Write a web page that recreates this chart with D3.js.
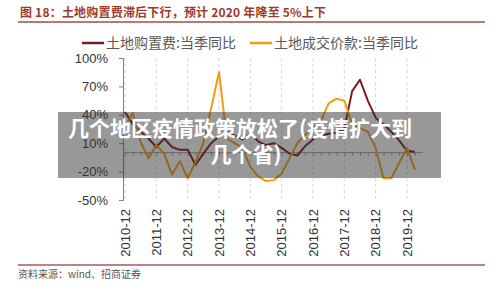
<!DOCTYPE html>
<html>
<head>
<meta charset="utf-8">
<script src="https://cdn.jsdelivr.net/npm/d3@7"></script>
<style>
  body { margin: 0; background: #fff; }
  svg { display: block; }
</style>
</head>
<body>
<div id="chart"></div>
<script>
// Data
const quarters = [
  '2010-12','2011-03','2011-06','2011-09','2011-12','2012-03','2012-06','2012-09','2012-12',
  '2013-03','2013-06','2013-09','2013-12','2014-03','2014-06','2014-09','2014-12',
  '2015-03','2015-06','2015-09','2015-12','2016-03','2016-06','2016-09','2016-12',
  '2017-03','2017-06','2017-09','2017-12','2018-03','2018-06','2018-09','2018-12',
  '2019-03','2019-06','2019-09','2019-12','2020-03'
];
// 土地购置费:当季同比 (%)
const landPurchase = [
  43, 30, 22, 15, 6, 15, 6, 3, 3,
  -13, -1, 10, 17, 22, 18, 14, 20,
  12, 8, 10, 5, -1, -3, 7, 14,
  18, 20, 21, 25, 65, 77, 55, 37,
  30, 22, 13, 2, 1
];
// 土地成交价款:当季同比 (%)
const landDeal = [
  27, 42, 11, -6, 8, -1, -23, -9, -27,
  -10, 10, 47, 85, 15, 10, 5, -15,
  -25, -30, -29, -22, -6, 10, 19, 27,
  33, 52, 57, 55, 30, 26, 22, 5,
  -27, -27, -11, 5, -18
];
const yTicks = [-50, -20, 10, 40, 70, 100];
const xTickLabels = ['2010-12','2011-12','2012-12','2013-12','2014-12','2015-12','2016-12','2017-12','2018-12','2019-12'];
const seriesNames = ['土地购置费:当季同比', '土地成交价款:当季同比'];
const seriesColors = ['#7a1c1e', '#f39c12'];

const width = 500;
const height = 291;

let svg = d3.select('#chart').append('svg')
  .attr('width', width)
  .attr('height', height);

// Title and rules
svg.append('text')
  .attr('x', 20)
  .attr('y', 17)
  .attr('font-family', 'Noto Sans CJK SC')
  .attr('font-weight', 'bold')
  .attr('font-size', '12px')
  .attr('letter-spacing', '0.2px')
  .attr('fill', '#a03a2a')
  .text('图 18：土地购置费滞后下行，预计 2020 年降至 5%上下');

svg.append('line')
  .attr('x1', 18).attr('x2', 485)
  .attr('y1', 22).attr('y2', 22)
  .attr('stroke', '#a54a40')
  .attr('stroke-width', 1.5);

svg.append('line')
  .attr('x1', 18).attr('x2', 485)
  .attr('y1', 265).attr('y2', 265)
  .attr('stroke', '#b5525a')
  .attr('stroke-width', 1.5);

svg.append('text')
  .attr('x', 18)
  .attr('y', 278)
  .attr('font-family', 'Noto Sans CJK SC')
  .attr('font-size', '10px')
  .attr('fill', '#555')
  .text('资料来源：wind、招商证券');

// Legend
let legendX = [82, 250];
seriesNames.forEach(function(name, i) {
  let g = svg.append('g').attr('transform', `translate(${legendX[i]}, 43)`);
  g.append('line')
    .attr('x1', 0).attr('x2', 22)
    .attr('stroke', seriesColors[i])
    .attr('stroke-width', 2.5);
  g.append('text')
    .attr('x', 24)
    .attr('y', 5)
    .attr('font-family', 'Noto Sans CJK SC')
    .attr('font-size', '14px')
    .attr('fill', '#595959')
    .text(name);
});

// Scales
let xScale = d3.scalePoint()
  .domain(quarters)
  .range([125, 414.8]);

let yScale = d3.scaleLinear()
  .domain([-50, 100])
  .range([200, 58]);

// Vertical dashed grid at year labels
svg.append('g')
  .selectAll('line')
  .data(xTickLabels).enter()
  .append('line')
  .attr('x1', d => xScale(d)).attr('x2', d => xScale(d))
  .attr('y1', 58).attr('y2', 200)
  .attr('stroke', '#d4d4d4')
  .attr('stroke-dasharray', '3,3');

// Y axis
let yAxis = d3.axisLeft(yScale)
  .tickValues(yTicks)
  .tickSize(4)
  .tickPadding(11)
  .tickFormat(d => d + '%');

let yg = svg.append('g')
  .attr('transform', 'translate(123, 0)')
  .call(yAxis);
yg.select('.domain').attr('stroke', '#b86b6b');
yg.selectAll('.tick line').attr('stroke', '#b86b6b');
yg.selectAll('.tick text')
  .attr('font-family', 'Liberation Sans')
  .attr('font-size', '13px')
  .attr('fill', '#333');

// Zero line with quarter ticks
let xAxis = d3.axisBottom(xScale)
  .tickSize(3)
  .tickFormat('');
let xg = svg.append('g')
  .attr('transform', `translate(0, ${yScale(0)})`)
  .call(xAxis);
xg.select('.domain').attr('stroke', '#999').attr('d', `M123,0H423`);
xg.selectAll('.tick line').attr('stroke', '#999');

// X labels (rotated)
svg.append('g')
  .selectAll('text')
  .data(xTickLabels).enter()
  .append('text')
  .attr('transform', d => `translate(${xScale(d)}, 209) rotate(-90)`)
  .attr('text-anchor', 'end')
  .attr('dy', '0.35em')
  .attr('font-family', 'Liberation Sans')
  .attr('font-size', '13px')
  .attr('fill', '#333')
  .text(d => d);

// Lines
let line = d3.line()
  .x((d, i) => xScale(quarters[i]))
  .y(d => yScale(d));

[landPurchase, landDeal].forEach(function(values, i) {
  svg.append('path')
    .datum(values)
    .attr('d', line)
    .attr('fill', 'none')
    .attr('stroke', seriesColors[i])
    .attr('stroke-width', 2)
    .attr('stroke-linejoin', 'round');
});

// Overlay banner
svg.append('rect')
  .attr('x', 58).attr('y', 112)
  .attr('width', 383).attr('height', 66)
  .attr('fill', 'rgba(50,50,50,0.5)');

let bannerLines = ['几个地区疫情政策放松了(疫情扩大到', '几个省)'];
let bannerX = [240, 246];
svg.append('g')
  .selectAll('text')
  .data(bannerLines).enter()
  .append('text')
  .attr('x', (d, i) => bannerX[i])
  .attr('y', (d, i) => 136 + i * 26)
  .attr('text-anchor', 'middle')
  .attr('font-family', 'Noto Sans CJK SC')
  .attr('font-weight', 'bold')
  .attr('font-size', '21px')
  .attr('fill', '#fff')
  .text(d => d);
</script>
</body>
</html>
